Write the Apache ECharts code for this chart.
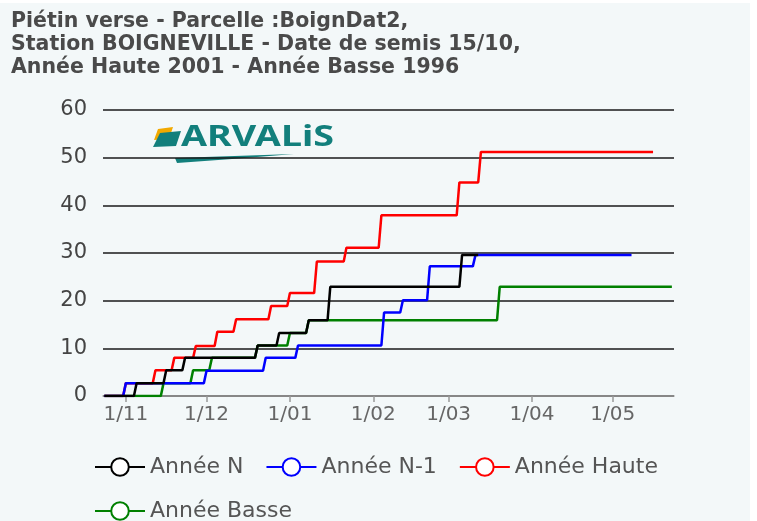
<!DOCTYPE html>
<html>
<head>
<meta charset="utf-8">
<script src="https://cdn.jsdelivr.net/npm/echarts@6/dist/echarts.min.js"></script>
<style>
  html, body { margin: 0; padding: 0; background: #ffffff; }
  #chart { position: absolute; left: 0; top: 3px; width: 750px; height: 518px; background: #f3f8f9; }
</style>
</head>
<body>
<div id="chart"></div>
<script>
// Piétin verse - cumul par paliers (date du saut / valeur atteinte)
var seriesNames = ['Année N', 'Année N-1', 'Année Haute', 'Année Basse'];
var seriesColors = ['#000000', '#0000ff', '#ff0000', '#008000'];

var startDate = '2024/10/24';

var anneeNDates = ['2024/11/05', '2024/11/16', '2024/11/23', '2024/12/20', '2024/12/28', '2025/01/08', '2025/01/16', '2025/03/06'];
var anneeNValues = [2.7, 5.4, 8.0, 10.6, 13.2, 15.9, 22.9, 29.6];
var anneeNEnd = '2025/03/12';

var anneeN1Dates = ['2024/11/01', '2024/12/01', '2024/12/23', '2025/01/04', '2025/02/05', '2025/02/12', '2025/02/22', '2025/03/11'];
var anneeN1Values = [2.7, 5.3, 8.0, 10.6, 17.5, 20.1, 27.2, 29.6];
var anneeN1End = '2025/05/08';

var hauteDates = ['2024/11/01', '2024/11/12', '2024/11/19', '2024/11/27', '2024/12/05', '2024/12/12', '2024/12/25', '2025/01/01', '2025/01/11', '2025/01/22', '2025/02/04', '2025/03/05', '2025/03/13'];
var hauteValues = [2.7, 5.4, 8.0, 10.5, 13.5, 16.1, 18.9, 21.6, 28.2, 31.1, 37.9, 44.8, 51.2];
var hauteEnd = '2025/05/16';

var basseDates = ['2024/11/15', '2024/11/26', '2024/12/03', '2024/12/20', '2025/01/01', '2025/01/08', '2025/03/20'];
var basseValues = [2.7, 5.4, 8.0, 10.6, 13.2, 15.9, 22.9];
var basseEnd = '2025/05/23';

var DAY = 24 * 3600 * 1000;

function toTime(s) {
  return new Date(s).getTime();
}

// construit l'escalier : un jour de montée entre deux paliers
function stairs(dates, values, end) {
  var pts = [[toTime(startDate), 0]];
  var prev = 0;
  for (var i = 0; i < dates.length; i++) {
    var t = toTime(dates[i]);
    pts.push([t - DAY, prev]);
    pts.push([t, values[i]]);
    prev = values[i];
  }
  pts.push([toTime(end), prev]);
  return pts;
}

var stairData = {
  'Année N': stairs(anneeNDates, anneeNValues, anneeNEnd),
  'Année N-1': stairs(anneeN1Dates, anneeN1Values, anneeN1End),
  'Année Haute': stairs(hauteDates, hauteValues, hauteEnd),
  'Année Basse': stairs(basseDates, basseValues, basseEnd)
};

// ordre de dessin : le noir passe au-dessus
var drawOrder = ['Année Basse', 'Année Haute', 'Année N-1', 'Année N'];

var myChart = echarts.init(document.getElementById('chart'));

myChart.setOption({
  animation: false,
  textStyle: { fontFamily: '"DejaVu Sans", sans-serif' },
  title: {
    text: 'Piétin verse - Parcelle :BoignDat2,\nStation BOIGNEVILLE - Date de semis 15/10,\nAnnée Haute 2001 - Année Basse 1996',
    left: 6,
    top: 2,
    textStyle: {
      fontFamily: '"DejaVu Sans", sans-serif',
      fontSize: 20.5,
      fontWeight: 'bold',
      color: '#4a4a4a',
      lineHeight: 23
    }
  },
  legend: {
    data: seriesNames,
    left: 94,
    top: 453,
    padding: 0,
    itemWidth: 50,
    itemHeight: 22,
    itemGap: 22,
    textStyle: { fontSize: 22, color: '#555555' }
  },
  grid: { left: 103, right: 76, top: 107, bottom: 125 },
  xAxis: {
    type: 'time',
    min: new Date(2024, 9, 23, 12).getTime(),
    max: new Date(2025, 4, 23, 19).getTime(),
    minInterval: 28 * DAY,
    maxInterval: 31 * DAY,
    splitLine: { show: false },
    axisLine: { lineStyle: { color: '#999999', width: 1.5 } },
    axisTick: { show: true, length: 6, lineStyle: { color: '#999999', width: 1.5 } },
    axisLabel: {
      fontSize: 20,
      color: '#666666',
      margin: 9,
      showMinLabel: false,
      showMaxLabel: false,
      formatter: function (v) {
        var d = new Date(v);
        return d.getDate() + '/' + ('0' + (d.getMonth() + 1)).slice(-2);
      }
    }
  },
  yAxis: {
    type: 'value',
    min: 0,
    max: 60,
    interval: 10,
    axisLine: { show: false },
    axisTick: { show: false },
    splitLine: { lineStyle: { color: '#1a1a1a', width: 1.5 } },
    axisLabel: { fontSize: 21, color: '#444444', margin: 16 }
  },
  graphic: [
    {
      type: 'polygon',
      shape: { points: [[158, 126], [173, 124], [169, 136], [154, 137]] },
      style: { fill: '#f2a900' }
    },
    {
      type: 'polygon',
      shape: { points: [[160, 130], [181, 128], [176, 143], [153, 144]] },
      style: { fill: '#127f7c' }
    },
    {
      type: 'text',
      x: 181,
      y: 120,
      scaleX: 1.3,
      style: { text: 'ARVALiS', font: 'bold 29px "Noto Sans"', fill: '#127f7c' }
    },
    {
      type: 'polygon',
      shape: { points: [[175, 155], [294, 151], [232, 156], [177, 160]] },
      style: { fill: '#127f7c' }
    }
  ],
  series: drawOrder.map(function (name) {
    return {
      name: name,
      type: 'line',
      showSymbol: false,
      symbol: 'emptyCircle',
      symbolSize: 14,
      color: seriesColors[seriesNames.indexOf(name)],
      lineStyle: { width: 2.5 },
      data: stairData[name]
    };
  })
});
</script>
</body>
</html>
